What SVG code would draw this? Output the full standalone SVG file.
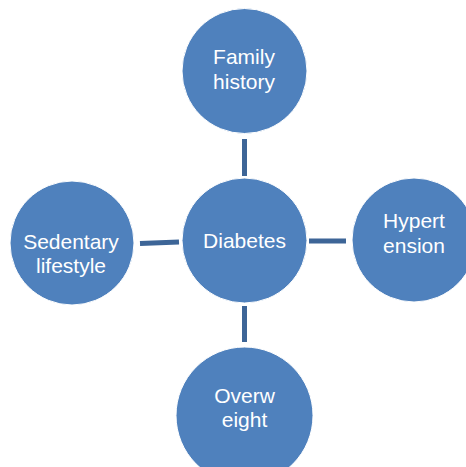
<svg xmlns="http://www.w3.org/2000/svg" width="466" height="467" viewBox="0 0 466 467">
<style>
.node{fill:#4F81BD;stroke:#ffffff;stroke-width:1}
.lbl{font-family:"Liberation Sans",Arial,sans-serif;font-size:21px;fill:#ffffff;text-anchor:middle}
.conn{stroke:#3D6597;stroke-width:5;fill:none}
</style>
<rect width="466" height="467" fill="#ffffff"/>
<g id="connectors">
<line class="conn" x1="244.5" y1="139" x2="244.5" y2="176"/>
<line class="conn" x1="140" y1="243.5" x2="179" y2="242"/>
<line class="conn" x1="309" y1="241" x2="346" y2="241"/>
<line class="conn" x1="244.5" y1="306" x2="244.5" y2="342"/>
</g>
<g id="family-history">
<circle class="node" cx="244.5" cy="71" r="62.5"/>
<text class="lbl" x="244" y="64">Family</text>
<text class="lbl" x="244" y="89">history</text>
</g>
<g id="diabetes">
<circle class="node" cx="244.5" cy="240.5" r="62.5"/>
<text class="lbl" x="244.5" y="248">Diabetes</text>
</g>
<g id="sedentary-lifestyle">
<circle class="node" cx="72" cy="243" r="62"/>
<text class="lbl" x="71" y="249">Sedentary</text>
<text class="lbl" x="71" y="273">lifestyle</text>
</g>
<g id="hypertension">
<circle class="node" cx="414" cy="240" r="62"/>
<text class="lbl" x="414" y="228">Hypert</text>
<text class="lbl" x="414" y="253">ension</text>
</g>
<g id="overweight">
<circle class="node" cx="244.5" cy="415.5" r="68.5"/>
<text class="lbl" x="244.5" y="403">Overw</text>
<text class="lbl" x="244.5" y="427">eight</text>
</g>
</svg>
